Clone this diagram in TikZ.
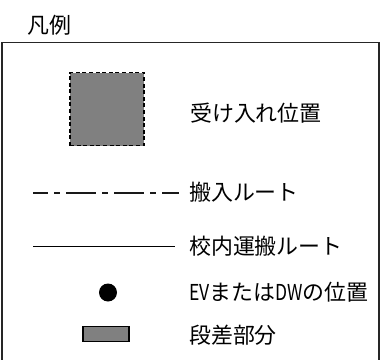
\documentclass[tikz,border=0pt]{standalone}
\usepackage{fontspec}
\setmainfont{Noto Sans CJK JP}
\usetikzlibrary{positioning}
\definecolor{stepgray}{rgb}{0.5, 0.5, 0.5}
\newcommand{\narrowlat}[1]{\scalebox{0.8}[1]{#1}}
\tikzstyle{legendtext} = [anchor=west, inner sep=0pt, font=\fontsize{22}{26}\selectfont]
\tikzstyle{frame} = [draw=black!85, line width=1.1bp]
\tikzstyle{receive} = [rectangle, minimum width=74bp, minimum height=73bp, draw=black, fill=stepgray, line width=1.5bp, dash pattern=on 4bp off 2.6bp]
\tikzstyle{inroute} = [line width=2bp, draw=black!90, dash pattern=on 30bp off 6bp on 6bp off 6bp, dash phase=15bp]
\tikzstyle{schoolroute} = [line width=1.3bp, draw=black]
\tikzstyle{evdot} = [circle, fill=black, minimum size=18bp, inner sep=0pt]
\tikzstyle{stepbox} = [rectangle, minimum width=46bp, minimum height=15bp, draw=black, fill=stepgray, line width=1.3bp]

\begin{document}
\begin{tikzpicture}[x=1bp, y=-1bp]
\useasboundingbox (0,0) rectangle (382,360);

% Title and frame
\node (title) [legendtext] at (27,25) {凡例};
\draw[frame] (2,362) -- (2,42.7) -- (379,42.7) -- (379,362);

% Receiving place
\node (recv) [receive] at (107,109) {};
\node (recvtxt) [legendtext] at (190,113) {受け入れ位置};

% Routes
\coordinate (inA) at (33,192.5);
\coordinate (inB) at (179,192.5);
\draw[inroute] (inA) -- (inB);
\node (intxt) [legendtext] at (189,192) {搬入ルート};

\coordinate (scA) at (33,246.5);
\coordinate (scB) at (175,246.5);
\draw[schoolroute] (scA) -- (scB);
\node (sctxt) [legendtext, below=54bp of intxt.west, anchor=west] {校内運搬ルート};

% EV / DW
\node (ev) [evdot] at (108,292.5) {};
\node (evtxt) [legendtext] at (189,292.5) {\narrowlat{EV}または\narrowlat{DW}の位置};

% Step part
\node (step) [stepbox] at (106,334) {};
\node (steptxt) [legendtext] at (189,335) {段差部分};

\end{tikzpicture}
\end{document}
